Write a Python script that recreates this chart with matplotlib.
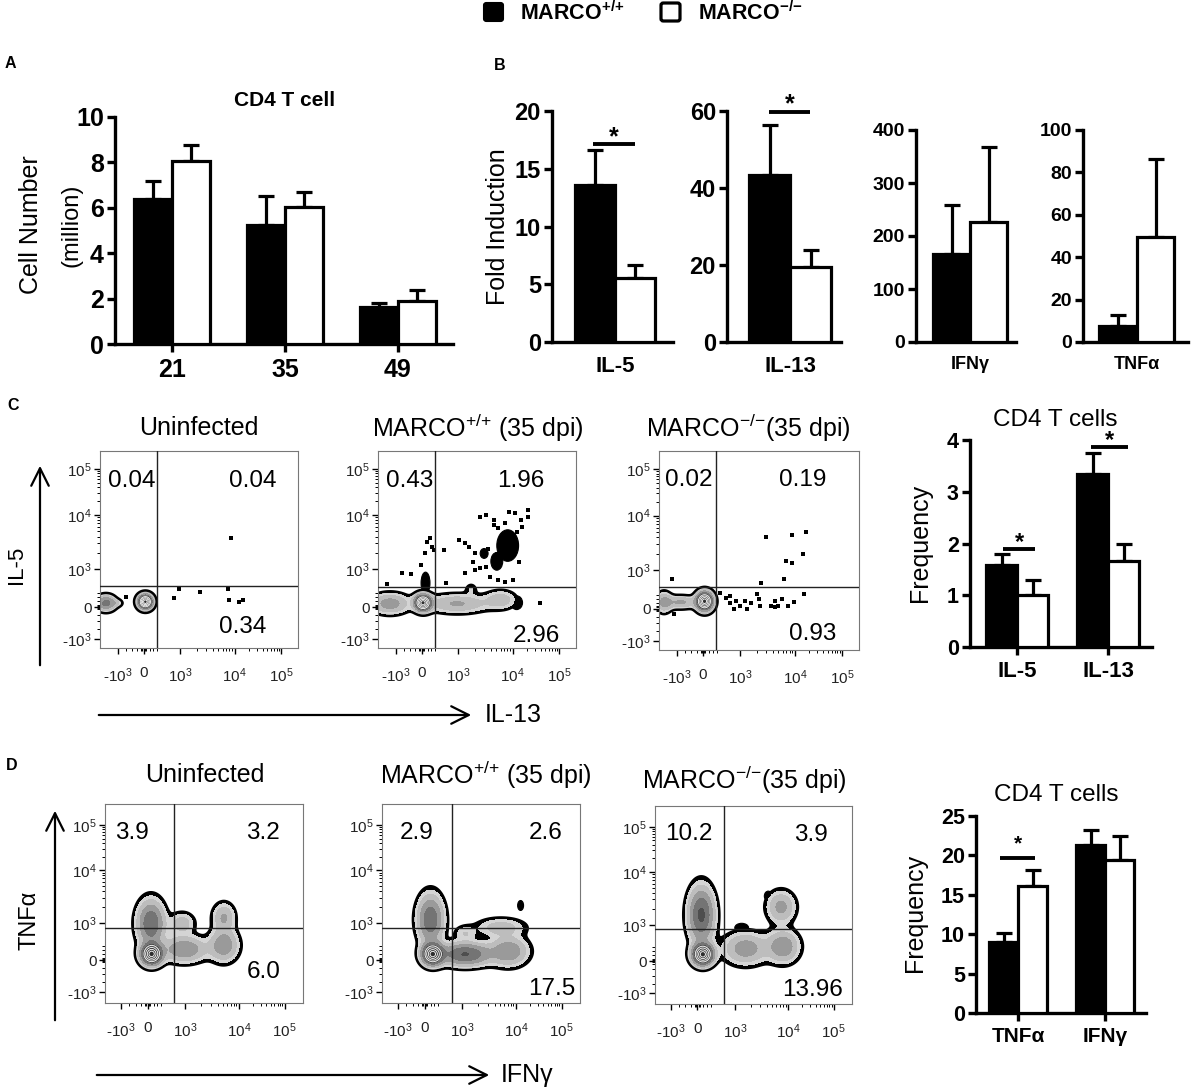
import numpy as np
import matplotlib
matplotlib.use('Agg')
import matplotlib.pyplot as plt
from matplotlib.patches import FancyBboxPatch, FancyArrowPatch, Ellipse

plt.rcParams['font.family'] = ['Liberation Sans', 'DejaVu Sans']
plt.rcParams['mathtext.default'] = 'regular'

W, H = 1192, 1088

# ---------------- data ----------------
# A: CD4 T cell number (million)
days = ['21', '35', '49']
a_wt = [6.4, 5.25, 1.65]
a_wt_sem = [0.8, 1.25, 0.17]
a_ko = [8.05, 6.05, 1.9]
a_ko_sem = [0.7, 0.65, 0.48]

# B: fold induction
b_genes = ['IL-5', 'IL-13', 'IFNγ', 'TNFα']
b_wt = [13.6, 43.3, 166, 7.6]
b_wt_sem = [3.0, 13.0, 92, 5.0]
b_ko = [5.5, 19.4, 227, 49.4]
b_ko_sem = [1.2, 4.4, 140, 36.7]
b_ymax = [20, 60, 400, 100]
b_ystep = [5, 20, 100, 20]
b_sig = [17.1, 59.8, None, None]

# C right: frequency
c_genes = ['IL-5', 'IL-13']
c_wt = [1.58, 3.35]
c_wt_sem = [0.21, 0.40]
c_ko = [1.0, 1.66]
c_ko_sem = [0.29, 0.33]
c_sig = [1.9, 3.87]

# D right: frequency
d_genes = ['TNFα', 'IFNγ']
d_wt = [9.0, 21.3]
d_wt_sem = [1.2, 1.9]
d_ko = [16.1, 19.4]
d_ko_sem = [2.0, 3.0]
d_sig = [19.7, None]

# flow plots: quadrant percentages (UL, UR, LR)
c_quads = [['0.04', '0.04', '0.34'], ['0.43', '1.96', '2.96'], ['0.02', '0.19', '0.93']]
d_quads = [['3.9', '3.2', '6.0'], ['2.9', '2.6', '17.5'], ['10.2', '3.9', '13.96']]
flow_titles = ['Uninfected', 'MARCO$^{{+}/{+}}$ (35 dpi)', 'MARCO$^{{-}/{-}}$(35 dpi)']

# populations (cx, cy, sx, sy, weight) in plot fraction units
c1_pops = [(0.229, 0.235, 0.022, 0.022, 1.0), (0.03, 0.228, 0.03, 0.024, 0.35),
           (0.085, 0.228, 0.02, 0.012, 0.08)]
c2_pops = [(0.227, 0.23, 0.025, 0.025, 1.0), (0.06, 0.225, 0.06, 0.032, 0.25),
           (0.40, 0.225, 0.10, 0.03, 0.2), (0.62, 0.245, 0.05, 0.03, 0.15),
           (0.47, 0.30, 0.02, 0.02, 0.06)]
c3_pops = [(0.228, 0.245, 0.025, 0.028, 1.0), (0.11, 0.24, 0.05, 0.02, 0.2),
           (0.025, 0.24, 0.025, 0.032, 0.2)]
d1_pops = [(0.235, 0.245, 0.032, 0.032, 1.0), (0.232, 0.40, 0.042, 0.07, 0.45),
           (0.40, 0.27, 0.07, 0.04, 0.3), (0.60, 0.29, 0.045, 0.05, 0.28),
           (0.60, 0.43, 0.035, 0.045, 0.2), (0.39, 0.40, 0.04, 0.035, 0.15)]
d2_pops = [(0.255, 0.245, 0.032, 0.032, 1.0), (0.245, 0.42, 0.04, 0.075, 0.45),
           (0.42, 0.245, 0.08, 0.035, 0.5), (0.64, 0.26, 0.06, 0.045, 0.3),
           (0.60, 0.38, 0.08, 0.03, 0.15), (0.42, 0.35, 0.035, 0.025, 0.1)]
d3_pops = [(0.243, 0.25, 0.032, 0.032, 1.0), (0.235, 0.45, 0.04, 0.085, 0.5),
           (0.46, 0.28, 0.07, 0.05, 0.25), (0.65, 0.29, 0.05, 0.05, 0.28),
           (0.64, 0.49, 0.045, 0.05, 0.22)]

# dense outlier patches drawn solid black (cx, cy, width, height)
c1_black = []
c2_black = [(0.655, 0.52, 0.11, 0.16), (0.60, 0.44, 0.06, 0.09), (0.536, 0.48, 0.04, 0.05),
            (0.24, 0.33, 0.045, 0.11), (0.70, 0.23, 0.06, 0.07)]
c3_black = []
d1_black = []
d2_black = [(0.70, 0.49, 0.03, 0.05)]
d3_black = [(0.44, 0.385, 0.07, 0.045), (0.575, 0.545, 0.04, 0.05)]

# single events
c1_x = [0.664, 0.374, 0.40, 0.505, 0.645, 0.65, 0.70, 0.72, 0.13]
c1_y = [0.56, 0.254, 0.30, 0.284, 0.30, 0.244, 0.235, 0.244, 0.26]
c2_x = [0.246, 0.265, 0.275, 0.236, 0.285, 0.217, 0.333, 0.410, 0.439, 0.459, 0.488,
        0.517, 0.546, 0.584, 0.604, 0.662, 0.691, 0.720, 0.758, 0.700, 0.729, 0.642,
        0.681, 0.478, 0.488, 0.517, 0.546, 0.565, 0.604, 0.642, 0.681, 0.439, 0.343,
        0.120, 0.169, 0.043, 0.710, 0.816, 0.642, 0.584, 0.758, 0.555]
c2_y = [0.536, 0.556, 0.514, 0.480, 0.497, 0.421, 0.500, 0.548, 0.534, 0.514, 0.480,
        0.666, 0.675, 0.624, 0.607, 0.692, 0.683, 0.649, 0.700, 0.590, 0.616, 0.514,
        0.497, 0.438, 0.396, 0.404, 0.412, 0.362, 0.345, 0.336, 0.345, 0.379, 0.328,
        0.379, 0.375, 0.324, 0.438, 0.226, 0.632, 0.649, 0.666, 0.505]
c3_x = [0.063, 0.073, 0.306, 0.335, 0.355, 0.384, 0.403, 0.432, 0.461, 0.491, 0.500,
        0.504, 0.510, 0.535, 0.558, 0.578, 0.597, 0.617, 0.626, 0.636, 0.646, 0.665,
        0.665, 0.675, 0.718, 0.723, 0.733, 0.374, 0.442, 0.355, 0.578]
c3_y = [0.355, 0.180, 0.288, 0.263, 0.238, 0.247, 0.222, 0.247, 0.238, 0.280, 0.255,
        0.222, 0.335, 0.568, 0.222, 0.247, 0.222, 0.255, 0.355, 0.447, 0.222, 0.580,
        0.438, 0.242, 0.480, 0.280, 0.592, 0.208, 0.205, 0.272, 0.218]

# ---------------- helpers ----------------
fig = plt.figure(figsize=(W / 100, H / 100), dpi=100)


def box(l, t, r, b):
    return [l / W, 1 - b / H, (r - l) / W, (b - t) / H]


def ftext(x, y, s, **kw):
    kw.setdefault('ha', 'center')
    kw.setdefault('va', 'center')
    fig.text(x / W, 1 - y / H, s, **kw)


def farrow(x0, y0, x1, y1):
    fig.add_artist(FancyArrowPatch((x0 / W, 1 - y0 / H), (x1 / W, 1 - y1 / H),
                                   transform=fig.transFigure, lw=1.6, color='black',
                                   arrowstyle='->,head_length=0.9,head_width=0.45',
                                   mutation_scale=14))


def bar_axes(rect, xlim, ymax, ystep, tick_fs, ticklen=6):
    ax = fig.add_axes(box(*rect))
    ax.set_xlim(*xlim)
    ax.set_ylim(0, ymax)
    for s in ['top', 'right']:
        ax.spines[s].set_visible(False)
    for s in ['left', 'bottom']:
        ax.spines[s].set_linewidth(2.4)
    ax.set_yticks(np.arange(0, ymax + 0.1, ystep))
    ax.tick_params(axis='y', direction='out', length=6, width=2.4, pad=2)
    ax.tick_params(axis='x', direction='out', length=ticklen, width=2.4, pad=4)
    for lab in ax.get_yticklabels():
        lab.set_fontsize(tick_fs)
        lab.set_fontweight('bold')
    return ax


def draw_bars(ax, centers, wt, wsem, ko, ksem, width, cap):
    centers = np.asarray(centers, dtype=float)
    n = len(centers)
    ax.bar(centers - width / 2, wt, width, color='black', edgecolor='black', lw=2.3, zorder=3)
    ax.bar(centers + width / 2, ko, width, color='white', edgecolor='black', lw=2.3, zorder=3)
    ax.errorbar(centers - width / 2, wt, yerr=[np.zeros(n), wsem], fmt='none', ecolor='black',
                elinewidth=2.3, capsize=cap, capthick=2.3, zorder=2, clip_on=False)
    ax.errorbar(centers + width / 2, ko, yerr=[np.zeros(n), ksem], fmt='none', ecolor='black',
                elinewidth=2.3, capsize=cap, capthick=2.3, zorder=2, clip_on=False)


def sig(ax, x0, x1, y, fs, star_dy=0.0):
    ax.plot([x0, x1], [y, y], color='black', lw=2.8, clip_on=False, solid_capstyle='butt')
    ax.text((x0 + x1) / 2, y + star_dy, '*', ha='center', va='baseline', fontsize=fs,
            fontweight='bold', clip_on=False)


def minor_positions(major):
    out = []
    for fa, fb in zip(major[2:-1], major[3:]):
        out += [fa + (fb - fa) * np.log10(k) for k in range(2, 10)]
    z = major[1]
    out += [z + d for d in (-0.012, -0.006, 0.006, 0.012, 0.03, 0.05, 0.07)]
    out += [major[0] + (major[1] - major[0]) * f for f in (0.3, 0.55, 0.75)]
    return out


flow_levels = [0.035, 0.06, 0.1, 0.18, 0.3, 0.45, 0.65, 1.01]
flow_colors = ['black', '#d4d4d4', '#bdbdbd', '#9a9a9a', '#747474', '#4e4e4e', '#2e2e2e']
tick_labels = [r'-$10^3$', '0', r'$10^3$', r'$10^4$', r'$10^5$']


def flow(rect, pops, blacks, dx, dy, gate, quads, qpos, xt, yt):
    ax = fig.add_axes(box(*rect))
    g = np.linspace(0, 1, 320)
    X, Y = np.meshgrid(g, g)
    Z = np.zeros_like(X)
    for cx, cy, sx, sy, w in pops:
        Z += w * np.exp(-0.5 * (((X - cx) / sx) ** 2 + ((Y - cy) / sy) ** 2))
    Z /= Z.max()
    for cx, cy, bw, bh in blacks:
        ax.add_patch(Ellipse((cx, cy), bw, bh, facecolor='black', edgecolor='black',
                             lw=0.8, zorder=0.5))
    ax.contourf(X, Y, Z, levels=flow_levels, colors=flow_colors, zorder=1)
    ax.contour(X, Y, Z, levels=[0.035], colors='black', linewidths=1.8, zorder=2)
    ax.contour(X, Y, Z, levels=[0.5, 0.65, 0.8, 0.92], colors='#ededed',
               linewidths=0.7, zorder=2)
    if dx:
        ax.scatter(dx, dy, s=6, marker='s', color='black', lw=0, zorder=3)
    ax.axvline(gate[0], color='#222222', lw=1.0, zorder=4)
    ax.axhline(gate[1], color='#222222', lw=1.0, zorder=4)
    for s, (qx, qy) in zip(quads, qpos):
        ax.text(qx, qy, s, transform=ax.transAxes, ha='center', va='center',
                fontsize=17.5, zorder=5)
    ax.set_xlim(0, 1)
    ax.set_ylim(0, 1)
    for s in ax.spines.values():
        s.set_linewidth(0.8)
        s.set_color('#777777')
    ax.set_xticks(xt)
    ax.set_xticklabels(tick_labels, fontsize=11, color='#222222')
    ax.set_yticks(yt)
    ax.set_yticklabels(tick_labels, fontsize=11, color='#222222')
    ax.set_xticks(minor_positions(xt), minor=True)
    ax.set_yticks(minor_positions(yt), minor=True)
    ax.tick_params(axis='x', which='major', direction='out', length=4, width=1.0, pad=9)
    ax.tick_params(axis='y', which='major', direction='out', length=4, width=1.0, pad=2)
    ax.tick_params(which='minor', direction='out', length=2, width=0.7)
    return ax


# ---------------- legend ----------------
fig.add_artist(FancyBboxPatch((484 / W, 1 - 21 / H), 19 / W, 18 / H, transform=fig.transFigure,
                              boxstyle='round,pad=0,rounding_size=0.002',
                              facecolor='black', edgecolor='black', lw=1.5))
fig.add_artist(FancyBboxPatch((661 / W, 1 - 21 / H), 19 / W, 18 / H, transform=fig.transFigure,
                              boxstyle='round,pad=0,rounding_size=0.002',
                              facecolor='white', edgecolor='black', lw=2.3))
ftext(520, 13, 'MARCO$^{{+}/{+}}$', ha='left', fontsize=15.5, fontweight='bold')
ftext(698, 13, 'MARCO$^{{-}/{-}}$', ha='left', fontsize=15.5, fontweight='bold')

# panel letters
for lab, x, y in [('A', 5, 64), ('B', 494, 65), ('C', 7, 405), ('D', 6, 765)]:
    ftext(x, y, lab, ha='left', fontsize=11.5, fontweight='bold')

# ---------------- panel A ----------------
ax = bar_axes((115, 117, 453, 344), (-0.504, 2.487), 10, 2, 18)
draw_bars(ax, np.arange(3), a_wt, a_wt_sem, a_ko, a_ko_sem, 0.336, 6)
ax.set_xticks(np.arange(3))
ax.set_xticklabels(days, fontsize=18, fontweight='bold')
ftext(285, 100, 'CD4 T cell', fontsize=15, fontweight='bold')
ftext(31, 225, 'Cell Number', rotation=90, fontsize=18)
ftext(72, 225, '(million)', rotation=90, fontsize=17)

# ---------------- panel B ----------------
b_rects = [(552, 111, 673, 342), (727, 111, 841, 342), (916, 130, 1016, 342), (1083, 130, 1188, 342)]
b_xlims = [(-1.575, 1.45), (-1.54, 1.24), (-1.46, 1.24), (-1.43, 1.36)]
b_sigx = [(-0.55, 0.5), (-0.51, 0.49)]
for i in range(4):
    big = i < 2
    ax = bar_axes(b_rects[i], b_xlims[i], b_ymax[i], b_ystep[i], 17 if big else 14, ticklen=0)
    draw_bars(ax, [0], [b_wt[i]], [b_wt_sem[i]], [b_ko[i]], [b_ko_sem[i]], 1.0, 6)
    ax.set_xticks([0])
    ax.set_xticklabels([b_genes[i]], fontsize=16 if big else 13, fontweight='bold')
    ax.tick_params(axis='x', pad=10)
    if b_sig[i] is not None:
        sig(ax, b_sigx[i][0], b_sigx[i][1], b_sig[i], 18)
ftext(498, 227, 'Fold Induction', rotation=90, fontsize=18)

# ---------------- panel C ----------------
c_rects = [(100, 451, 298, 648), (378, 451, 576, 648), (659, 451, 859, 650)]
c_pops = [c1_pops, c2_pops, c3_pops]
c_blacks = [c1_black, c2_black, c3_black]
c_dx = [c1_x, c2_x, c3_x]
c_dy = [c1_y, c2_y, c3_y]
c_gates = [(0.29, 0.315), (0.29, 0.31), (0.287, 0.315)]
c_qpos = [[(0.16, 0.85), (0.77, 0.85), (0.72, 0.107)],
          [(0.16, 0.85), (0.72, 0.85), (0.80, 0.06)],
          [(0.15, 0.855), (0.72, 0.855), (0.77, 0.08)]]
c_xt = [0.09, 0.22, 0.405, 0.68, 0.915]
c_yt = [0.046, 0.208, 0.401, 0.675, 0.909]
c_title_x = [199, 478, 748]
for i in range(3):
    flow(c_rects[i], c_pops[i], c_blacks[i], c_dx[i], c_dy[i], c_gates[i], c_quads[i],
         c_qpos[i], c_xt, c_yt)
    ftext(c_title_x[i], 428, flow_titles[i], fontsize=18)
ftext(17, 565, 'IL-5', rotation=90, fontsize=16)
farrow(40, 668, 40, 463)
farrow(96, 715, 474, 715)
ftext(485, 715, 'IL-13', ha='left', fontsize=18)

ax = bar_axes((970, 440, 1152, 647), (-0.516, 1.48), 4, 1, 15.5)
draw_bars(ax, [0, 1], c_wt, c_wt_sem, c_ko, c_ko_sem, 0.34, 5.5)
ax.set_xticks([0, 1])
ax.set_xticklabels(c_genes, fontsize=16, fontweight='bold')
sig(ax, -0.154, 0.198, c_sig[0], 17)
sig(ax, 0.813, 1.22, c_sig[1], 17)
ftext(1055, 420, 'CD4 T cells', fontsize=17.5)
ftext(920, 543, 'Frequency', rotation=90, fontsize=18)

# ---------------- panel D ----------------
d_rects = [(105, 804, 303, 1003), (382, 804, 580, 1003), (655, 806, 852, 1004)]
d_pops = [d1_pops, d2_pops, d3_pops]
d_blacks = [d1_black, d2_black, d3_black]
d_gates = [(0.35, 0.377), (0.355, 0.377), (0.35, 0.377)]
d_qpos = [[(0.136, 0.855), (0.80, 0.855), (0.80, 0.156)],
          [(0.177, 0.855), (0.825, 0.855), (0.855, 0.07)],
          [(0.17, 0.86), (0.79, 0.855), (0.80, 0.07)]]
d_xt = [0.08, 0.215, 0.406, 0.676, 0.907]
d_yt = [0.055, 0.216, 0.40, 0.668, 0.894]
d_title_xy = [(205, 775), (486, 775), (744, 780)]
for i in range(3):
    flow(d_rects[i], d_pops[i], d_blacks[i], None, None, d_gates[i], d_quads[i],
         d_qpos[i], d_xt, d_yt)
    ftext(d_title_xy[i][0], d_title_xy[i][1], flow_titles[i], fontsize=18)
ftext(29, 920, 'TNFα', rotation=90, fontsize=17)
farrow(55, 1023, 55, 808)
farrow(94, 1075, 492, 1075)
ftext(501, 1075, 'IFNγ', ha='left', fontsize=18)

ax = bar_axes((976, 816, 1146, 1013), (-0.483, 1.47), 25, 5, 15.5)
draw_bars(ax, [0, 1], d_wt, d_wt_sem, d_ko, d_ko_sem, 0.333, 5.5)
ax.set_xticks([0, 1])
ax.set_xticklabels(d_genes, fontsize=15, fontweight='bold')
sig(ax, -0.207, 0.195, d_sig[0], 15, star_dy=1.0)
ftext(1056, 795, 'CD4 T cells', fontsize=17.5)
ftext(915, 913, 'Frequency', rotation=90, fontsize=18)

fig.savefig('out.png', dpi=100)
